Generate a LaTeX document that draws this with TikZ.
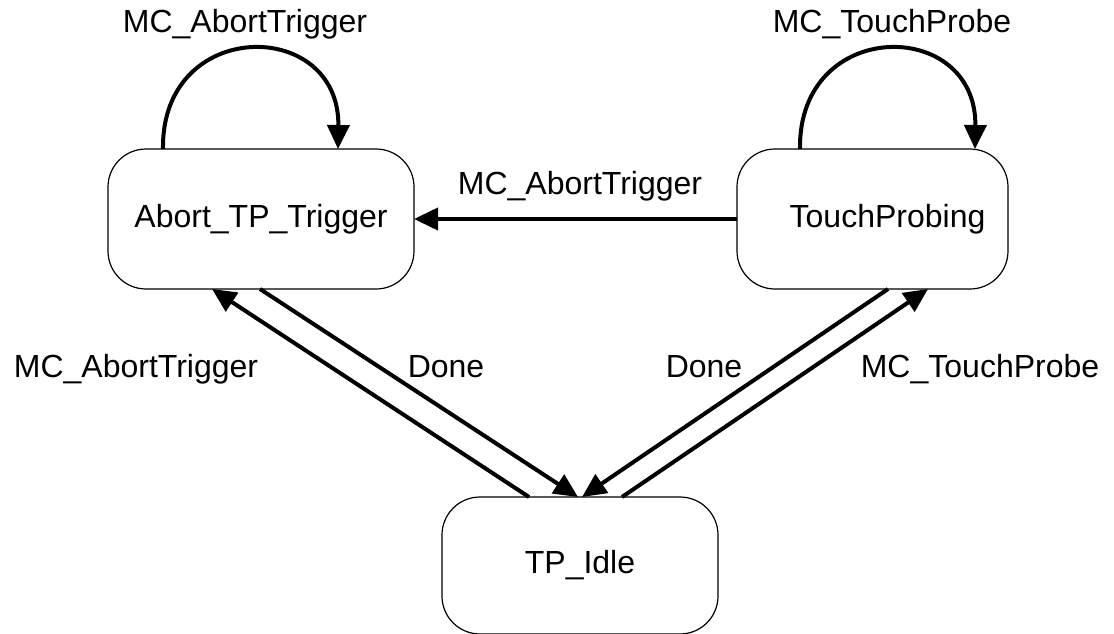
\documentclass[tikz,border=0pt]{standalone}
\usepackage{fontspec}
\setmainfont{Liberation Sans}
\usetikzlibrary{arrows.meta,calc}
\tikzset{
  state/.style={draw=black, line width=1.2pt, rounded corners=38pt, outer sep=0pt,
    inner sep=0pt, text height=23pt, text depth=7pt,
    font=\fontsize{32pt}{38pt}\selectfont},
  lbl/.style={anchor=base, inner sep=0pt, font=\fontsize{32pt}{38pt}\selectfont},
  conn/.style={line width=4pt, -{Triangle[length=24pt,width=22pt]}}
}
\begin{document}
\begin{tikzpicture}[x=1pt,y=-1pt]
\useasboundingbox (0,0) rectangle (1114,634);
\node[state, minimum width=306pt, minimum height=140pt] (abort) at (261,219) {Abort\_TP\_Trigger};
\node[state, minimum width=271pt, minimum height=140pt] (tp) at (872.5,219) {\hspace*{30pt}TouchProbing};
\node[state, minimum width=276pt, minimum height=137pt] (idle) at (580,565.5) {TP\_Idle};

% self loops
\draw[conn] ($(abort.north west)+(55,0)$) .. controls +(-2,-132) and +(2,-132) .. ($(abort.north west)+(230,0)$);
\draw[conn] ($(tp.north west)+(63,0)$) .. controls +(-2,-132) and +(2,-132) .. ($(tp.north west)+(238,0)$);
% horizontal
\draw[conn] (tp.west) -- (abort.east);
% diagonals
\draw[conn] ($(idle.north west)+(87,0)$) -- ($(abort.south west)+(104,0)$);
\draw[conn] ($(abort.south west)+(152,0)$) -- ($(idle.north west)+(136,0)$);
\draw[conn] ($(tp.south west)+(151,0)$) -- ($(idle.north west)+(140,0)$);
\draw[conn] ($(idle.north west)+(180,0)$) -- ($(tp.south west)+(191,0)$);

% labels
\node[lbl] (l1) at (245,33) {MC\_AbortTrigger};
\node[lbl] (l2) at (892,33) {MC\_TouchProbe};
\node[lbl] (l3) at (580,194) {MC\_AbortTrigger};
\node[lbl] (l4) at (136,377) {MC\_AbortTrigger};
\node[lbl] (l5) at (446,377) {Done};
\node[lbl] (l6) at (704,377) {Done};
\node[lbl] (l7) at (980,377) {MC\_TouchProbe};
\end{tikzpicture}
\end{document}
